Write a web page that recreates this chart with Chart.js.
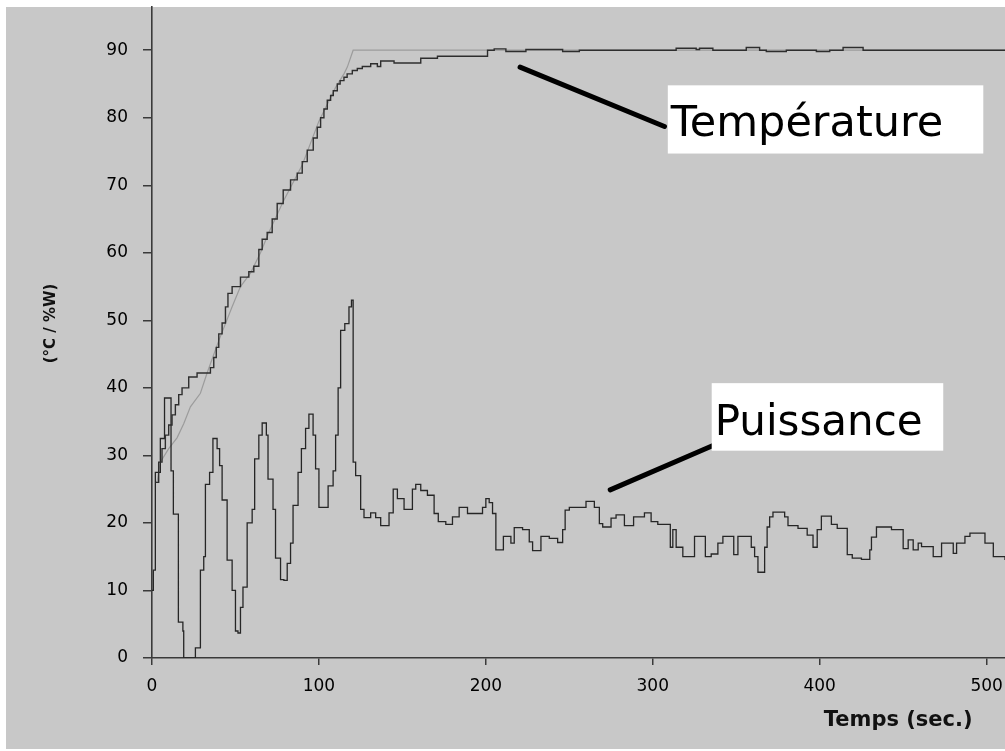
<!DOCTYPE html>
<html>
<head>
<meta charset="utf-8">
<script src="https://cdn.jsdelivr.net/npm/chart.js@4.4.1/dist/chart.umd.min.js"></script>
<style>
  html, body { margin: 0; padding: 0; background: #ffffff; }
  canvas { display: block; }
</style>
</head>
<body>
<canvas id="chart" width="1005" height="751"></canvas>
<script>
// Heating run: measured temperature, its set point, and the heater power (%)
const powerTime = [0,0.8,2,5,7.5,11.4,12.8,15.8,18.5,19,26,29,31,32,34.5,36.5,39,40.5,42,45,48,50,51.5,53,54.5,57,60,61.5,64,66,68.5,69.5,72.5,74,77,79,81,83,84.5,87.5,89.5,92,94,96.5,98,100,105.5,108.5,110,111.5,113,115.5,118,119.5,120.5,122,125,127,131,134,137,142,144.5,147,151,156,158,161,165,169,171.5,176,180,184,189,198,200,202,204,206,210.5,215,217,222,226,228,233,238,243,246,247.5,250,260,265,268,270,275,278,283,288.5,295,299,303,310.5,312,314,318,325,331.5,335,339,342,348.5,351,359,361,363,367,368.5,370,372,379,381,387,392.5,396,398.5,401,407,410.5,416.5,419.5,425,430,431,434,443,450,453,456,459,461,468,473,480,482,487,490,499,504,511];
const powerVals = [10,13,27.5,32.5,38.5,27.7,21.3,5.3,4,0,1.5,13,15,25.7,27.5,32.5,31,28.5,23.4,14.5,10,4,3.7,7.5,10.5,20,22,29.5,33,34.8,33,26.5,22,14.8,11.6,11.5,14,17,22.6,27.5,31,34,36.1,33,28,22.3,25.5,27.7,33,40,48.5,49.5,52,53,29,27,22,20.8,21.5,20.8,19.6,21.5,25,23.6,22,25,25.7,24.8,24.1,21.4,20.2,19.8,20.9,22.3,21.4,22.3,23.6,23,21.4,16,18,17,19.3,19,17.2,15.9,18,17.7,17.1,19,21.9,22.3,23.2,22.3,19.9,19.4,20.7,21.2,19.6,20.9,21.5,20.2,19.8,16.4,19,16.4,15,18,15,15.4,17,18,15.3,18,16.4,15,12.7,16.4,19.4,20.9,21.6,20.9,19.6,19.2,18.2,16.4,19,21,19.8,19.2,15.3,14.8,14.6,16,17.9,19.4,19,16.2,17.5,16,17,16.5,15,17,15.5,17,18,18.5,17,15,14.5];

const tempTime = [2,4,6,8,10,12,14,16,18,22,27,33,35,37,38.5,40,42,44,45.5,48,53,58,61,64,66,69,72,75,78.6,83,87,90,93,96.6,99,101,103,105,107,108.6,111,112.7,115,116.9,120,123,126,131,135,137,143,145,160,161,169,171,199,201,205,212,224,246,256,314,326,328,336,356,364,368,380,398,406,414,426,511];
const tempVals = [26,29,31,33,34.5,36,37.5,39,40,41.6,42.2,42.2,43,44.5,46,48,49.6,52,54,55,56.4,57.2,58,60.5,62,63,65,67.3,69.3,70.8,71.8,73.5,75.2,77,78.6,80,81.3,82.6,83.3,84,85,85.5,86,86.5,87,87.3,87.6,88,87.6,88.4,88.4,88.1,88.1,88.8,88.8,89.1,89.1,90,90.2,89.8,90.1,89.8,90,90.3,90.1,90.3,90,90.4,90,89.8,90,89.8,90,90.4,90,90];

const setTime = [3,5,10,15,19,23,29,33,40,48,53,59,65,70,78.6,90,100,110,115,117,120.5,511];
const setVals = [26,29,31,32.6,34.7,37.2,39.2,42.2,47,52,55,57,60,63,67.6,73,79.5,84.5,86.5,87.5,90,90];

// Axis ranges and titles
const xRange = [0, 511];
const yRange = [0, 96.4];
const xTitle = 'Temps (sec.)';
const yTitle = '(°C / %W)';

// Callout labels: text, box [t0, t1, vTop, vBottom], baseline value, leader [t0, v0, t1, v1]
const calloutText = ['Température', 'Puissance'];
const calloutSize = [43, 42];
const calloutBox = [[309, 498, 84.8, 74.7], [335.3, 474, 40.7, 30.7]];
const calloutBase = [77.3, 33.0];
const calloutLeader = [[220.5, 87.5, 307, 78.7], [274.5, 24.9, 335.4, 31.4]];

const toPoints = (ts, vs) => ts.map((t, i) => ({ x: t, y: vs[i] }));

const AXIS = '#3a3a3a';
const tickFont = { family: 'DejaVu Sans', size: 17 };

// keep the plot frame fixed: no extra room for edge labels
function noEdgePadding(s) {
  s.paddingTop = 0; s.paddingBottom = 0; s.paddingLeft = 0; s.paddingRight = 0;
}

const backdrop = {
  id: 'backdrop',
  beforeDraw(chart) {
    const c = chart.ctx;
    c.save();
    c.fillStyle = '#ffffff';
    c.fillRect(0, 0, chart.width, chart.height);
    c.fillStyle = '#c8c8c8';
    c.fillRect(6, 7, chart.width - 6, chart.height - 9);
    c.restore();
  }
};

const overlay = {
  id: 'overlay',
  afterDraw(chart) {
    const c = chart.ctx;
    const xs = chart.scales.x, ys = chart.scales.y;
    const area = chart.chartArea;
    c.save();
    // axis titles
    c.fillStyle = '#111111';
    c.font = 'bold 21px "DejaVu Sans"';
    c.textAlign = 'center';
    c.textBaseline = 'middle';
    c.fillText(xTitle, xs.getPixelForValue(447), 721);
    c.save();
    c.translate(area.left - 101, (area.top + area.bottom) / 2 - 9);
    c.rotate(-Math.PI / 2);
    c.font = 'bold 15px "DejaVu Sans"';
    c.fillText(yTitle, 0, 0);
    c.restore();

    // callouts
    calloutText.forEach((txt, i) => {
      const L = calloutLeader[i];
      c.strokeStyle = '#000000';
      c.lineWidth = 5;
      c.lineCap = 'round';
      c.beginPath();
      c.moveTo(xs.getPixelForValue(L[0]), ys.getPixelForValue(L[1]));
      c.lineTo(xs.getPixelForValue(L[2]), ys.getPixelForValue(L[3]));
      c.stroke();
      const B = calloutBox[i];
      const x0 = xs.getPixelForValue(B[0]), x1 = xs.getPixelForValue(B[1]);
      const y0 = ys.getPixelForValue(B[2]), y1 = ys.getPixelForValue(B[3]);
      c.fillStyle = '#ffffff';
      c.fillRect(x0, y0, x1 - x0, y1 - y0);
      c.fillStyle = '#000000';
      c.font = calloutSize[i] + 'px "DejaVu Sans"';
      c.textAlign = 'left';
      c.textBaseline = 'alphabetic';
      c.fillText(txt, x0 + 3, ys.getPixelForValue(calloutBase[i]));
    });
    c.restore();
  }
};

new Chart(document.getElementById('chart'), {
  type: 'line',
  data: {
    datasets: [
      {
        label: 'Température',
        data: toPoints(tempTime, tempVals),
        stepped: true,
        borderColor: '#2e2e2e',
        borderWidth: 1.4,
        pointRadius: 0,
        fill: false
      },
      {
        label: 'Puissance',
        data: toPoints(powerTime, powerVals),
        stepped: true,
        borderColor: '#262626',
        borderWidth: 1.3,
        pointRadius: 0,
        fill: false
      },
      {
        label: 'Consigne',
        data: toPoints(setTime, setVals),
        borderColor: '#9c9c9c',
        borderWidth: 1.2,
        pointRadius: 0,
        tension: 0,
        fill: false
      }
    ]
  },
  options: {
    responsive: false,
    animation: false,
    layout: { padding: { top: 7, left: 0, right: 0, bottom: 0 } },
    plugins: { legend: { display: false }, tooltip: { enabled: false } },
    scales: {
      x: {
        type: 'linear',
        min: xRange[0],
        max: xRange[1],
        afterFit(s) { s.height = 93; noEdgePadding(s); },
        ticks: { stepSize: 100, includeBounds: false, padding: 11, maxRotation: 0, font: tickFont, color: '#000000' },
        grid: { drawOnChartArea: false, drawTicks: true, tickLength: 7, color: AXIS, lineWidth: 1.5 },
        border: { display: true, color: AXIS, width: 1.6 }
      },
      y: {
        type: 'linear',
        min: yRange[0],
        max: yRange[1],
        afterFit(s) { s.width = 152; noEdgePadding(s); },
        ticks: { stepSize: 10, includeBounds: false, padding: 15, font: tickFont, color: '#000000' },
        grid: { drawOnChartArea: false, drawTicks: true, tickLength: 9, color: AXIS, lineWidth: 1.5 },
        border: { display: true, color: AXIS, width: 1.6 }
      }
    }
  },
  plugins: [backdrop, overlay]
});
</script>
</body>
</html>
